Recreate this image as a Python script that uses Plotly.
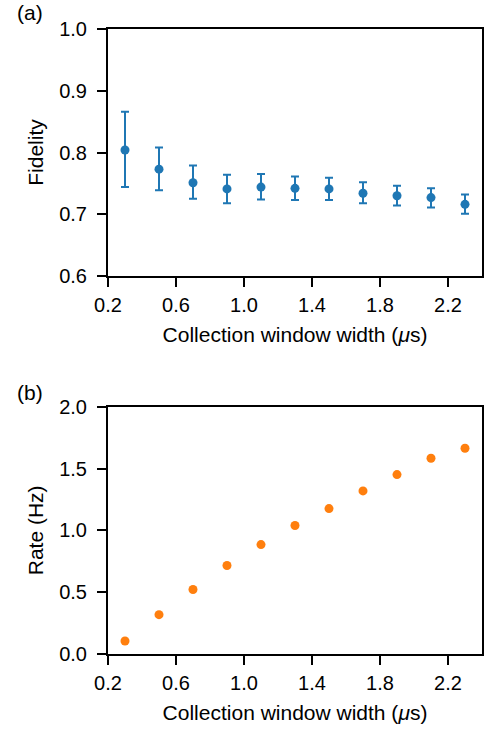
import plotly.graph_objects as go

window_width = [0.3, 0.5, 0.7, 0.9, 1.1, 1.3, 1.5, 1.7, 1.9, 2.1, 2.3]
fidelity = [0.804, 0.773, 0.751, 0.741, 0.744, 0.742, 0.741, 0.734, 0.730, 0.727, 0.716]
fid_upper = [0.866, 0.808, 0.779, 0.764, 0.765, 0.761, 0.759, 0.752, 0.746, 0.742, 0.732]
fid_lower = [0.744, 0.739, 0.725, 0.718, 0.724, 0.723, 0.723, 0.718, 0.714, 0.711, 0.701]
rate = [0.105, 0.318, 0.522, 0.716, 0.885, 1.039, 1.176, 1.319, 1.451, 1.583, 1.664]

x_ticks = [0.2, 0.6, 1.0, 1.4, 1.8, 2.2]

err_plus = [u - f for u, f in zip(fid_upper, fidelity)]
err_minus = [f - l for f, l in zip(fidelity, fid_lower)]

BLUE = "#1f77b4"
ORANGE = "#ff7f0e"
FONT = "Liberation Sans, Arial, sans-serif"

fig = go.Figure()
fig.add_trace(go.Scatter(
    x=window_width, y=fidelity, mode="markers",
    marker=dict(color=BLUE, size=9),
    error_y=dict(type="data", symmetric=False, array=err_plus, arrayminus=err_minus,
                 color=BLUE, thickness=2, width=4),
    xaxis="x", yaxis="y", showlegend=False,
))
fig.add_trace(go.Scatter(
    x=window_width, y=rate, mode="markers",
    marker=dict(color=ORANGE, size=9),
    xaxis="x2", yaxis="y2", showlegend=False,
))

axis_common = dict(
    showline=True, linecolor="black", linewidth=2, mirror=True,
    ticks="outside", ticklen=9, tickwidth=2, tickcolor="black",
    showgrid=False, zeroline=False,
    tickfont=dict(family=FONT, size=20, color="black"),
    title_font=dict(family=FONT, size=21, color="black"),
)

xaxis_common = dict(axis_common, range=[0.2, 2.4], tickvals=x_ticks, tickformat=".1f",
                    ticklabelstandoff=1,
                    title=dict(text="Collection window width (<i>μ</i>s)", standoff=12))

yaxis_common = dict(axis_common, tickformat=".1f", ticklabelstandoff=6)

fig.update_layout(
    width=488, height=729,
    margin=dict(l=108, r=4, t=29, b=75),
    paper_bgcolor="white", plot_bgcolor="white",
    font=dict(family=FONT, size=20, color="black"),
    xaxis=dict(xaxis_common, domain=[0, 1], anchor="y"),
    yaxis=dict(yaxis_common, domain=[0.6048, 1.0], range=[0.6, 1.0], dtick=0.1,
               anchor="x", title=dict(text="Fidelity", standoff=10)),
    xaxis2=dict(xaxis_common, domain=[0, 1], anchor="y2"),
    yaxis2=dict(yaxis_common, domain=[0.0, 0.3957], range=[0.0, 2.0], dtick=0.5,
                anchor="x2", title=dict(text="Rate (Hz)", standoff=10)),
    annotations=[
        dict(text="(a)", x=-0.209, y=1.0256, xref="paper", yref="paper",
             xanchor="center", yanchor="middle", showarrow=False,
             font=dict(family=FONT, size=21, color="black")),
        dict(text="(b)", x=-0.209, y=0.419, xref="paper", yref="paper",
             xanchor="center", yanchor="middle", showarrow=False,
             font=dict(family=FONT, size=21, color="black")),
    ],
)

fig.write_html("out.html",
               config={"displayModeBar": False},
               post_script="document.body.style.margin='0';document.body.style.padding='0';")
